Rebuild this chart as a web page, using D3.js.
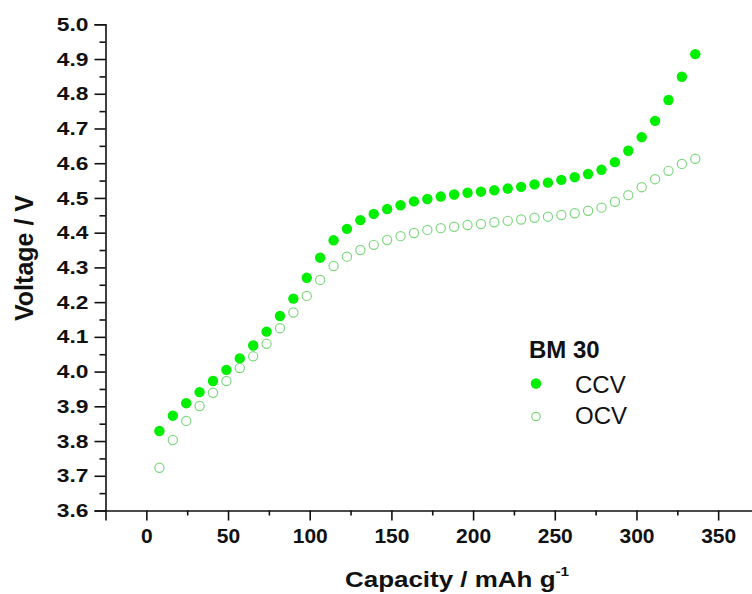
<!DOCTYPE html>
<html>
<head>
<meta charset="utf-8">
<script src="https://cdn.jsdelivr.net/npm/d3@7"></script>
<style>
  body { margin: 0; background: #fff; }
  svg { display: block; font-family: "Liberation Sans", Arial, sans-serif; }
</style>
</head>
<body>
<div id="chart"></div>
<script>
// capacity (mAh/g) of each measurement step
var capacity = [8, 16.2, 24.4, 32.6, 40.8, 49, 57.2, 65.4, 73.6, 81.8,
  90, 98.2, 106.4, 114.6, 122.8, 131, 139.2, 147.4, 155.6, 163.8,
  172, 180.2, 188.4, 196.6, 204.8, 213, 221.2, 229.4, 237.6, 245.8,
  254, 262.2, 270.4, 278.6, 286.8, 295, 303.2, 311.4, 319.6, 327.8, 336];

// closed circuit voltage
var ccv = [3.829, 3.873, 3.909, 3.941, 3.973, 4.005, 4.038, 4.075, 4.115, 4.16,
  4.21, 4.27, 4.328, 4.378, 4.411, 4.436, 4.454, 4.468, 4.479, 4.49,
  4.497, 4.504, 4.510, 4.515, 4.518, 4.522, 4.527, 4.532, 4.539, 4.544,
  4.552, 4.560, 4.569, 4.581, 4.603, 4.636, 4.675, 4.722, 4.782, 4.849, 4.914];

// open circuit voltage
var ocv = [3.723, 3.803, 3.858, 3.901, 3.939, 3.973, 4.01, 4.044, 4.08, 4.125,
  4.17, 4.218, 4.264, 4.304, 4.331, 4.350, 4.365, 4.379, 4.390, 4.399,
  4.408, 4.413, 4.417, 4.422, 4.425, 4.430, 4.434, 4.438, 4.443, 4.446,
  4.451, 4.456, 4.463, 4.472, 4.489, 4.508, 4.531, 4.554, 4.578, 4.598, 4.613];

var xMajor = [0, 50, 100, 150, 200, 250, 300, 350];
var xMinor = [25, 75, 125, 175, 225, 275, 325, 375];
var yMajor = [3.6, 3.7, 3.8, 3.9, 4.0, 4.1, 4.2, 4.3, 4.4, 4.5, 4.6, 4.7, 4.8, 4.9, 5.0];
var yMinor = [3.65, 3.75, 3.85, 3.95, 4.05, 4.15, 4.25, 4.35, 4.45, 4.55, 4.65, 4.75, 4.85, 4.95];

var W = 752, H = 594;
var fillGreen = "#00ee00", openGreen = "#7fd87f";

var svg = d3.select("#chart").append("svg")
    .attr("width", W)
    .attr("height", H);

var x = d3.scaleLinear().domain([-25, 375]).range([105.5, 759]);
var y = d3.scaleLinear().domain([3.6, 5.0]).range([510.5, 24.3]);

// axes
var gx = svg.append("g").attr("transform", "translate(0," + y(3.6) + ")");
gx.call(d3.axisBottom(x).tickValues(xMajor).tickSize(10).tickPadding(8).tickFormat(d3.format("d")));
gx.append("g").call(d3.axisBottom(x).tickValues(xMinor).tickSize(5).tickFormat(""))
    .select(".domain").remove();

var gy = svg.append("g").attr("transform", "translate(" + x(-25) + ",0)");
gy.call(d3.axisLeft(y).tickValues(yMajor).tickSize(11).tickPadding(6).tickFormat(d3.format(".1f")));
gy.append("g").call(d3.axisLeft(y).tickValues(yMinor).tickSize(6).tickFormat(""))
    .select(".domain").remove();

svg.selectAll(".domain, .tick line").attr("stroke", "#111").attr("stroke-width", 1.6);
gx.selectAll(".tick text")
    .attr("font-size", 21).attr("font-weight", "bold").attr("fill", "#111")
    .attr("font-family", "'Liberation Sans', Arial, sans-serif");
gy.selectAll(".tick text")
    .attr("font-size", 19).attr("font-weight", "bold").attr("fill", "#111")
    .attr("font-family", "'Liberation Sans', Arial, sans-serif")
    .attr("x", null)
    .attr("transform", "translate(-17,0) scale(1.2,1)");

// axis titles
svg.append("text")
    .attr("transform", "translate(33,258) rotate(-90)")
    .attr("text-anchor", "middle")
    .attr("font-size", 25).attr("font-weight", "bold").attr("fill", "#111")
    .text("Voltage / V");

var xt = svg.append("text")
    .attr("transform", "translate(345,587) scale(1.18,1)")
    .attr("font-size", 22).attr("font-weight", "bold").attr("fill", "#111");
xt.append("tspan").text("Capacity / mAh g");
xt.append("tspan").attr("font-size", 13).attr("dy", -11).text("-1");

// data points
svg.append("g").selectAll("circle")
    .data(capacity)
    .join("circle")
    .attr("cx", function(d) { return x(d); })
    .attr("cy", function(d, i) { return y(ocv[i]); })
    .attr("r", 4.6)
    .attr("fill", "none")
    .attr("stroke", openGreen)
    .attr("stroke-width", 1.2);

svg.append("g").selectAll("circle")
    .data(capacity)
    .join("circle")
    .attr("cx", function(d) { return x(d); })
    .attr("cy", function(d, i) { return y(ccv[i]); })
    .attr("r", 5.2)
    .attr("fill", fillGreen);

// legend
var lg = svg.append("g");
lg.append("text").attr("x", 529).attr("y", 358)
    .attr("font-size", 24).attr("font-weight", "bold").attr("fill", "#111").text("BM 30");
lg.append("circle").attr("cx", 536).attr("cy", 383.5).attr("r", 5.2).attr("fill", fillGreen);
lg.append("text").attr("x", 575).attr("y", 392.5)
    .attr("font-size", 24).attr("fill", "#111").text("CCV");
lg.append("circle").attr("cx", 536).attr("cy", 416.5).attr("r", 4.2)
    .attr("fill", "none").attr("stroke", openGreen).attr("stroke-width", 1.2);
lg.append("text").attr("x", 575).attr("y", 423.5)
    .attr("font-size", 24).attr("fill", "#111").text("OCV");
</script>
</body>
</html>
